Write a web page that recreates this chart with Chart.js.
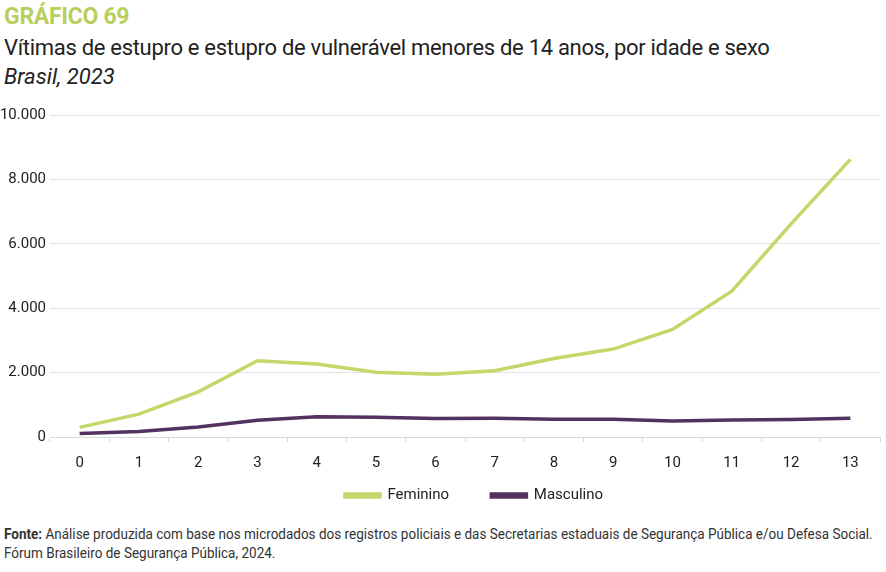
<!DOCTYPE html>
<html>
<head>
<meta charset="utf-8">
<script src="https://cdn.jsdelivr.net/npm/chart.js@4"></script>
<style>
  body { margin: 0; width: 886px; height: 572px; background: #fff; font-family: Roboto, "Open Sans", sans-serif; position: relative; overflow: hidden; }
  .kicker { position: absolute; left: 4px; top: 3px; font-size: 23px; font-weight: 700; color: #b8cf5e; letter-spacing: -0.3px; }
  .title { position: absolute; left: 4px; top: 35px; font-size: 22px; color: #222; letter-spacing: -0.3px; }
  .sub { position: absolute; left: 4px; top: 64px; font-size: 22px; font-style: italic; color: #222; }
  .chart { position: absolute; left: 0; top: 100px; width: 886px; height: 413px; }
  .fonte { position: absolute; left: 4px; top: 525px; font-size: 15px; color: #333; line-height: 19px; white-space: nowrap; transform: scaleX(0.9); transform-origin: left top; }
</style>
</head>
<body>
<div class="kicker">GRÁFICO 69</div>
<div class="title">Vítimas de estupro e estupro de vulnerável menores de 14 anos, por idade e sexo</div>
<div class="sub">Brasil, 2023</div>
<div class="chart"><canvas id="grafico"></canvas></div>
<div class="fonte"><b>Fonte:</b> Análise produzida com base nos microdados dos registros policiais e das Secretarias estaduais de Segurança Pública e/ou Defesa Social.<br>Fórum Brasileiro de Segurança Pública, 2024.</div>
<script>
// idades 0 a 13
const idades = ["0", "1", "2", "3", "4", "5", "6", "7", "8", "9", "10", "11", "12", "13"];
const feminino = [300, 710, 1400, 2370, 2270, 2010, 1950, 2060, 2440, 2730, 3340, 4530, 6620, 8620];
const masculino = [110, 170, 310, 520, 630, 610, 575, 580, 550, 555, 495, 530, 545, 580];
const ticksY = [0, 2000, 4000, 6000, 8000, 10000];

const fonteEixo = { family: "Roboto, sans-serif", size: 15 };

// empurra a legenda um pouco para a direita, como no original
const moverLegenda = {
    id: 'moverLegenda',
    afterLayout(chart) {
        chart.legend.left += 34;
        chart.legend.right += 34;
    }
};

new Chart(document.getElementById('grafico'), {
    type: 'line',
    data: {
        labels: idades,
        datasets: [
            { label: 'Feminino', data: feminino, borderColor: '#c2d86a', backgroundColor: '#c2d86a', borderWidth: 3.5, pointRadius: 0, tension: 0 },
            { label: 'Masculino', data: masculino, borderColor: '#52325e', backgroundColor: '#52325e', borderWidth: 3.5, pointRadius: 0, tension: 0 }
        ]
    },
    options: {
        responsive: true,
        maintainAspectRatio: false,
        animation: false,
        layout: { padding: { top: 15, right: 6, left: 0, bottom: 0 } },
        plugins: {
            tooltip: { enabled: false },
            legend: {
                position: 'bottom',
                labels: {
                    boxWidth: 35, boxHeight: 3, padding: 4, color: '#222', font: fonteEixo,
                    // espaço extra entre os dois itens
                    generateLabels: chart => {
                        const itens = Chart.defaults.plugins.legend.labels.generateLabels(chart);
                        itens[0].text += '\u2003\u2003\u2002';
                        return itens;
                    }
                }
            }
        },
        scales: {
            x: {
                offset: true,
                grid: { display: true, drawOnChartArea: false, drawTicks: true, tickLength: 5, color: '#d9d9d9', offset: true },
                border: { color: '#d9d9d9' },
                ticks: { color: '#222', font: fonteEixo, padding: 12 }
            },
            y: {
                min: 0,
                max: 10000,
                afterBuildTicks: s => { s.ticks = ticksY.map(v => ({ value: v })); },
                afterFit: s => { s.width = 50; },
                grid: { color: '#e3e3e3', drawTicks: false },
                border: { display: false },
                ticks: {
                    color: '#222', font: fonteEixo, padding: 4,
                    callback: v => v.toLocaleString('pt-BR')
                }
            }
        }
    },
    plugins: [moverLegenda]
});
</script>
</body>
</html>
